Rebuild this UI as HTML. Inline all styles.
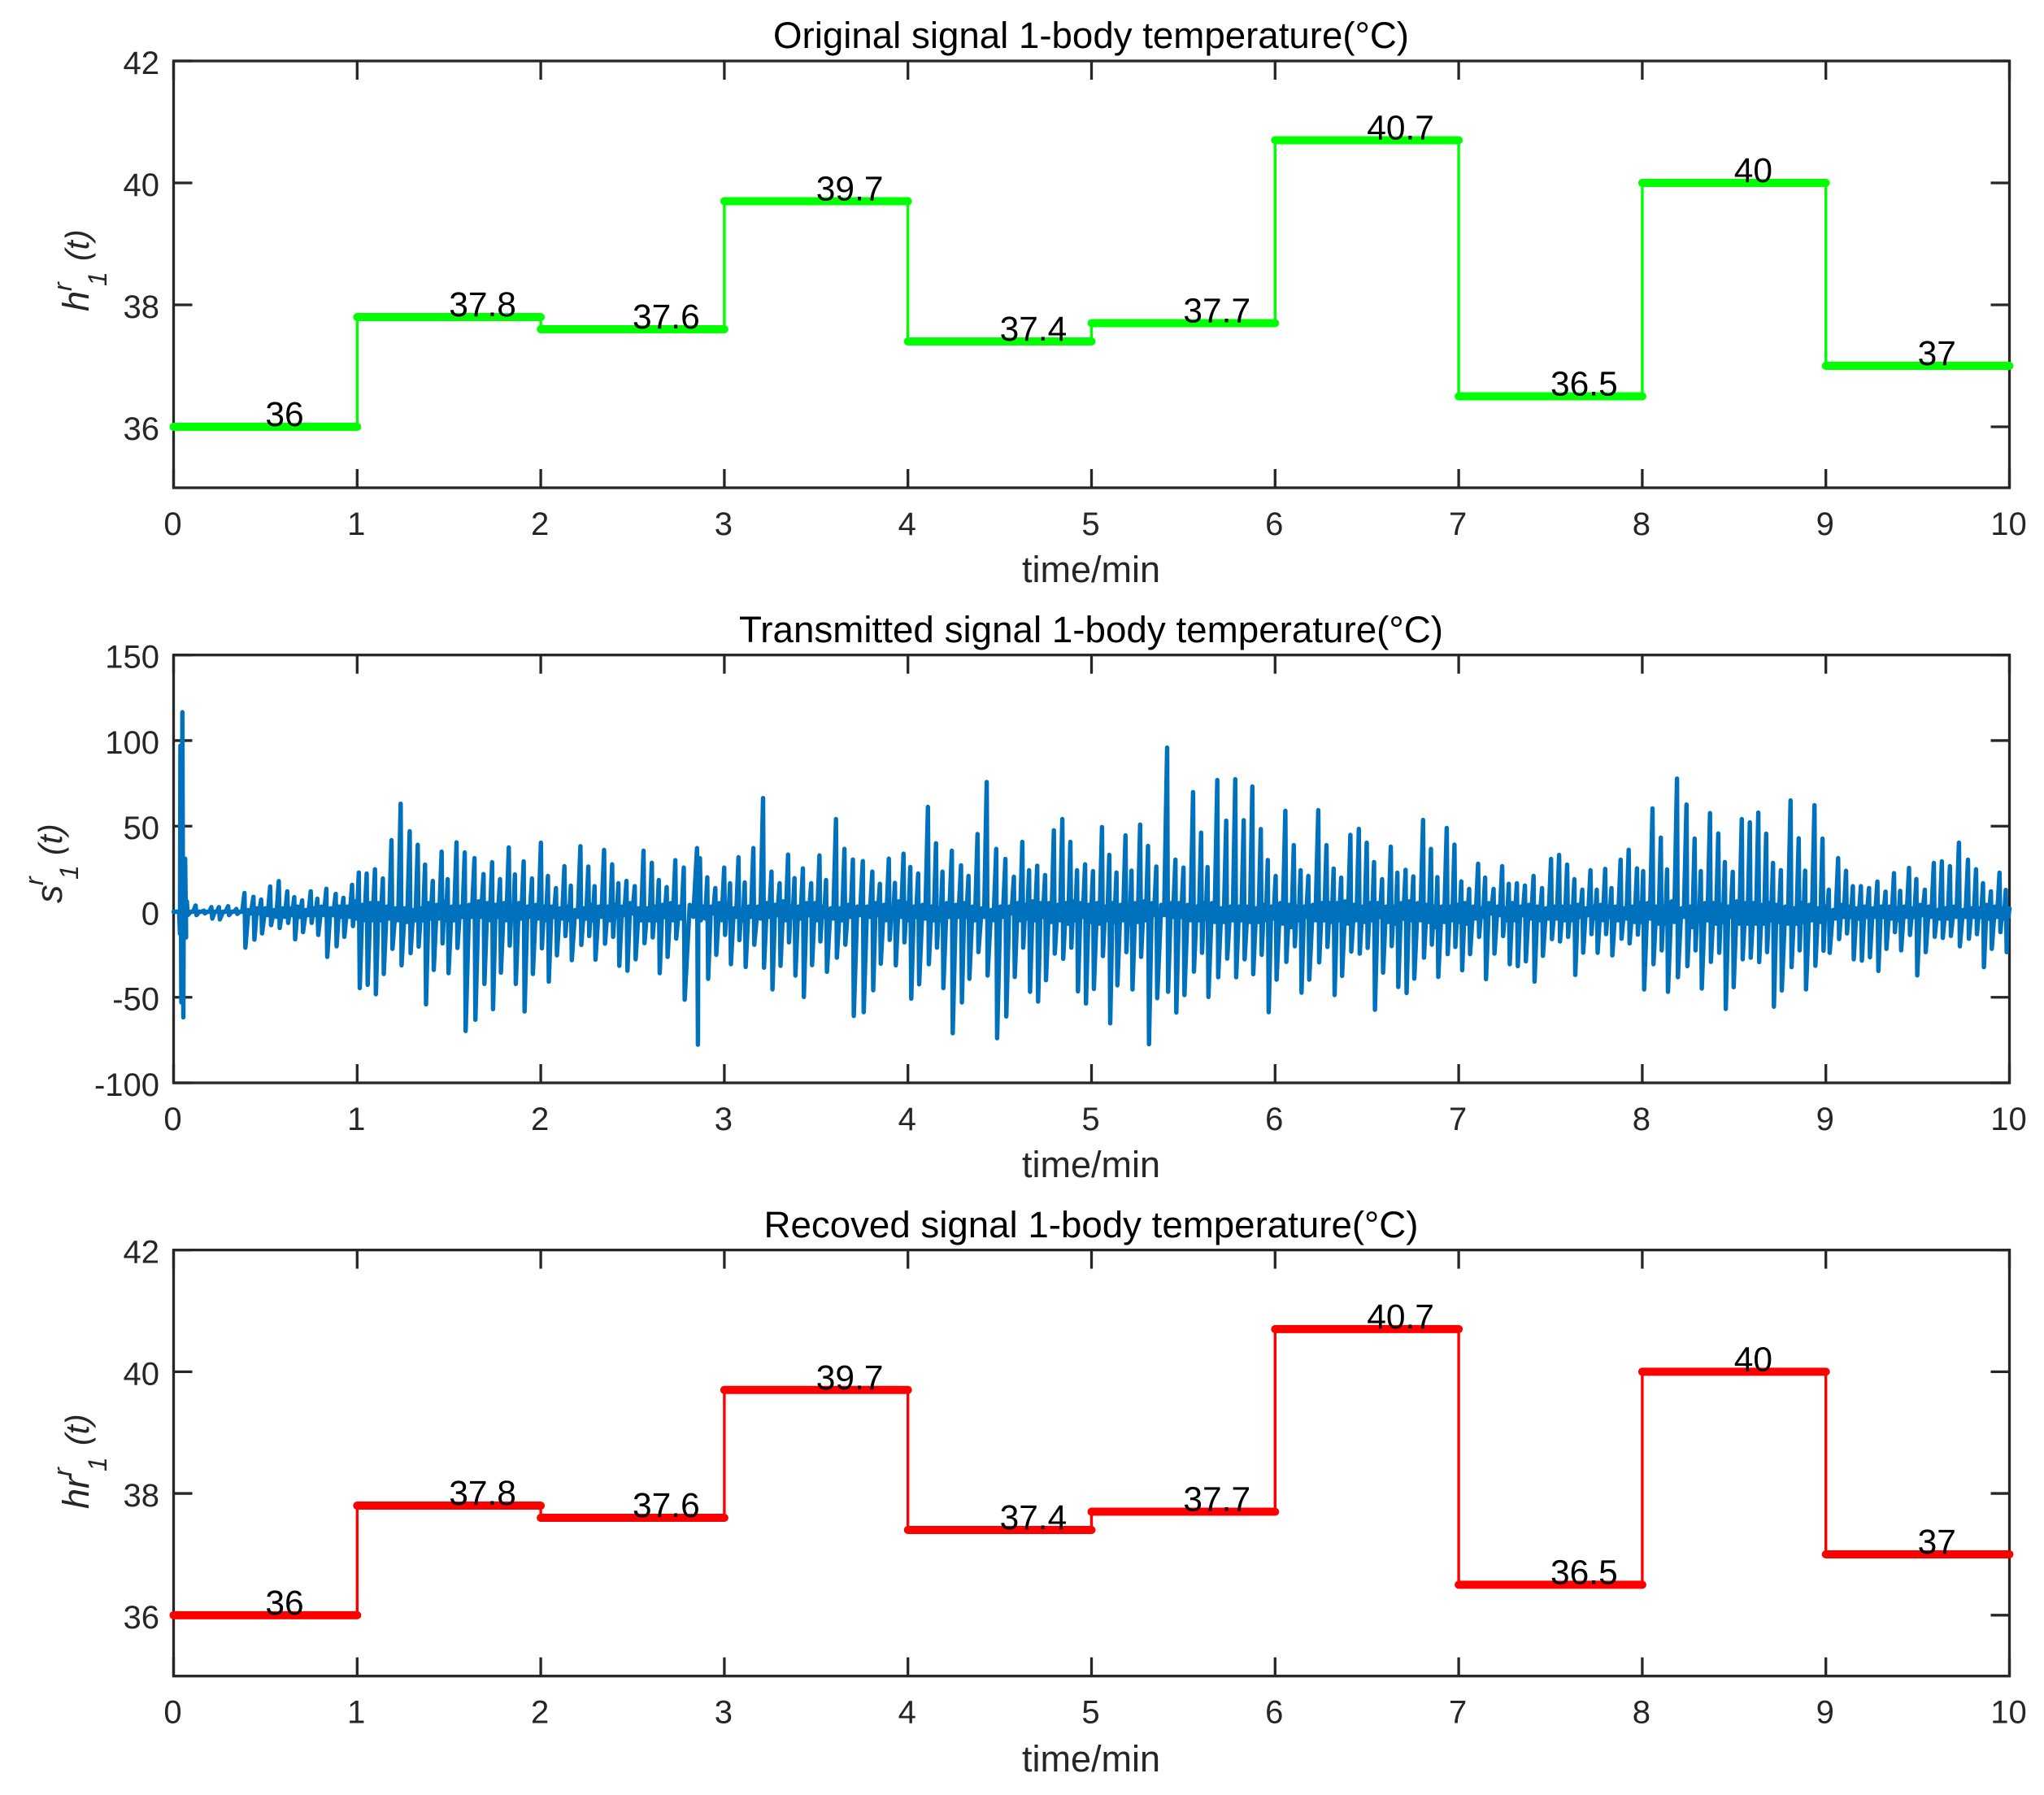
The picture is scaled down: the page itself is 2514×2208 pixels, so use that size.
<!DOCTYPE html>
<html>
<head>
<meta charset="utf-8">
<title>Body temperature signals</title>
<style>
html,body{margin:0;padding:0;background:#fff;}
svg{display:block;font-family:"Liberation Sans",Arial,sans-serif;}
.title{font-size:45.6px;fill:#000;text-anchor:middle;}
.xlabel{font-size:45px;fill:#262626;text-anchor:middle;}
.ylabel{font-size:45px;fill:#262626;font-style:italic;font-family:"Liberation Sans",Arial,sans-serif;}
.ylabel .sc{font-size:32px;}
.ylabel .arg{font-size:41px;}
.tick{font-size:40px;fill:#262626;}
.value{font-size:42.5px;fill:#000;}
</style>
</head>
<body>
<svg id="chart" xmlns="http://www.w3.org/2000/svg" width="2514" height="2208" viewBox="0 0 2514 2208">
  <rect x="0" y="0" width="2514" height="2208" fill="#fff"/>
  <g id="axes-original"></g>
  <g id="axes-transmitted"></g>
  <g id="axes-recovered"></g>

  <text class="title" x="1342" y="59" textLength="782" lengthAdjust="spacingAndGlyphs">Original signal 1-body temperature(°C)</text>
  <text class="title" x="1342" y="790" textLength="866" lengthAdjust="spacingAndGlyphs">Transmitted signal 1-body temperature(°C)</text>
  <text class="title" x="1342" y="1522" textLength="805" lengthAdjust="spacingAndGlyphs">Recoved signal 1-body temperature(°C)</text>

  <text class="xlabel" x="1342" y="716">time/min</text>
  <text class="xlabel" x="1342" y="1448">time/min</text>
  <text class="xlabel" x="1342" y="2179">time/min</text>

  <text class="ylabel" transform="translate(109 383) rotate(-90)"><tspan x="0" y="0">h</tspan><tspan class="sc" x="25" y="-21">r</tspan><tspan class="sc" x="31" y="22">1</tspan><tspan class="arg" x="62" y="0">(t)</tspan></text>
  <text class="ylabel" transform="translate(76 1111) rotate(-90)"><tspan x="0" y="0">s</tspan><tspan class="sc" x="22" y="-23">r</tspan><tspan class="sc" x="29" y="20">1</tspan><tspan class="arg" x="59" y="0">(t)</tspan></text>
  <text class="ylabel" transform="translate(109 1856) rotate(-90)"><tspan x="0" y="0">hr</tspan><tspan class="sc" x="40" y="-21">r</tspan><tspan class="sc" x="46" y="22">1</tspan><tspan class="arg" x="78" y="0">(t)</tspan></text>
</svg>

<script>
/* ---------- data ---------- */
const xTickLabels = [0,1,2,3,4,5,6,7,8,9,10];
const tempTickLabels = [36,38,40,42];
const signalTickLabels = [-100,-50,0,50,100,150];

const originalMinutes = [0,1,2,3,4,5,6,7,8,9];
const originalTemps = [36,37.8,37.6,39.7,37.4,37.7,40.7,36.5,40,37];
const recoveredTemps = [36,37.8,37.6,39.7,37.4,37.7,40.7,36.5,40,37];

/* transmitted signal: one entry per oscillation */
const signalTimes = [
0.000,0.030,0.037,0.048,0.063,0.072,0.120,0.165,0.206,0.247,0.297,0.342,
0.386,0.435,0.477,0.526,0.573,0.619,0.657,0.700,0.747,0.783,0.832,0.883,0.925,0.972,1.009,1.052,1.097,1.140,1.187,1.237,1.286,1.330,1.370,1.412,1.460,1.493,1.541,1.586,1.639,1.688,1.735,1.778,1.826,1.859,1.907,1.952,2.001,2.039,2.083,2.129,2.164,2.216,2.259,2.293,
2.345,2.389,2.423,2.467,2.512,2.560,2.605,2.643,2.686,2.733,2.779,2.851,2.867,2.907,2.951,2.999,3.031,3.077,3.111,3.158,3.211,3.257,3.301,3.347,3.382,3.428,3.473,3.518,3.554,3.608,3.654,3.700,3.754,3.806,3.847,3.896,3.929,3.976,4.013,4.056,4.109,4.153,4.188,4.239,4.289,4.330,4.379,4.429,4.481,4.531,4.577,
4.623,4.660,4.704,4.747,4.795,4.841,4.885,4.921,4.965,5.008,5.057,5.097,5.136,5.185,5.218,5.265,5.308,5.353,5.412,5.457,5.501,5.553,5.597,5.632,5.685,5.734,5.783,5.829,5.876,5.922,5.960,6.003,6.056,6.102,6.139,6.181,6.235,6.280,6.319,6.360,6.410,6.456,6.499,6.539,6.583,6.630,6.666,6.711,6.753,6.806,6.849,6.884,
6.935,6.977,7.014,7.057,7.106,7.144,7.190,7.237,7.273,7.317,7.361,7.408,7.454,7.503,7.547,7.591,7.630,7.673,7.718,7.752,7.798,7.832,7.882,7.926,7.971,8.005,8.056,8.101,8.135,8.189,8.241,8.285,8.319,8.369,8.414,8.450,8.493,8.542,8.586,8.632,8.675,8.712,8.755,8.808,8.852,8.887,8.938,8.982,9.016,9.067,9.110,9.147,9.191,
9.235,9.281,9.325,9.371,9.405,9.453,9.493,9.539,9.588,9.632,9.676,9.725,9.774,9.818,9.856,9.899,9.946,9.980];

const signalHigh = [
0,0,97,116.6,31,6,3.6,0.6,2.7,2.7,3.2,1.6,
10.9,8.7,7.1,14.7,17.9,11.9,8.5,6.6,11.9,7.6,13.4,10.4,8.1,15.7,22.9,22.3,24.8,19.4,41.8,63.1,47.0,39.1,27.5,18.0,35.1,19.0,40.5,34.6,31.3,22.0,28.9,19.0,37.5,21.8,29.4,19.4,40.3,20.9,13.8,26.6,15.2,38.3,26.4,14.9,
36.1,27.7,16.6,18.0,14.9,35.6,28.6,18.5,14.4,30.1,25.8,37.2,31.3,20.1,13.8,25.8,16.6,31.8,17.1,37.2,66.4,23.4,16.6,33.4,19.6,25.3,16.6,32.9,18.5,54.1,36.7,30.5,29.6,23.4,16.3,31.0,16.8,33.9,26.1,22.3,61.2,40.0,23.4,35.6,27.1,20.9,45.4,75.8,36.7,30.8,20.4,
40.8,24.2,26.9,21.4,47.6,54.1,40.8,24.2,27.7,23.7,49.5,33.2,22.9,44.6,24.0,50.9,38.4,26.4,95.9,30.4,25.8,69.9,46.2,26.1,77.0,53.2,77.4,53.5,73.2,48.3,30.2,20.9,59.0,38.9,24.2,20.9,59.3,38.9,25.2,19.9,44.9,48.4,40.3,29.0,19.0,38.0,22.8,24.5,20.6,53.6,36.7,20.2,
48.9,39.2,17.7,13.3,28.0,19.9,13.3,26.6,16.3,16.6,15.3,20.9,13.8,30.8,33.2,27.5,19.0,12.8,24.2,12.8,25.0,13.8,30.4,36.2,25.3,23.7,60.3,43.3,24.7,77.8,62.6,42.7,23.7,57.6,45.7,29.0,23.3,54.1,52.2,57.9,45.6,28.5,24.2,65.0,42.9,24.0,62.2,42.7,12.8,31.3,23.9,14.9,14.9,
13.8,17.6,11.7,22.5,12.2,25.6,19.1,12.8,28.5,29.4,26.6,40.3,30.4,24.8,16.6,11.9,22.8,12.7];

const signalLow = [
0,-13,-53,-61.7,-15,-2,-2,-1,-4,-4.5,-2,-1.3,
-21.0,-16.3,-12.7,-7.9,-9.5,-6.5,-16.1,-11.9,-6.5,-13.6,-26.4,-20.2,-14.7,-8.4,-44.6,-42.7,-48.2,-36.4,-21.7,-31.3,-24.2,-20.4,-54.1,-34.0,-18.5,-35.9,-21.2,-69.7,-63.1,-42.2,-56.9,-35.6,-19.8,-42.2,-58.3,-36.4,-21.4,-40.8,-25.5,-14.2,-28.3,-19.4,-14.2,-28.0,
-18.7,-14.7,-31.6,-34.5,-27.8,-18.4,-15.0,-35.9,-26.4,-15.7,-51.4,-77.7,-5,-39.2,-25.2,-13.6,-30.7,-16.6,-32.3,-19.3,-32.7,-45.4,-31.6,-17.9,-37.3,-49.8,-31.2,-17.4,-35.1,-26.9,-19.3,-60.9,-58.7,-45.9,-30.4,-16.5,-31.3,-17.9,-50.8,-42.4,-30.7,-21.0,-44.6,-71.0,-53.0,-39.2,-23.6,-37.3,-73.9,-61.2,-38.1,
-21.0,-46.8,-52.5,-40.0,-24.5,-27.5,-21.0,-46.5,-53.6,-45.1,-25.9,-65.2,-43.0,-23.6,-45.4,-26.4,-77.4,-50.5,-46.8,-58.9,-48.7,-35.0,-24.0,-49.8,-38.3,-27.4,-38.3,-27.8,-36.5,-25.2,-58.7,-39.7,-29.3,-20.2,-47.3,-39.7,-29.6,-20.6,-48.7,-37.5,-23.3,-24.5,-21.2,-57.3,-35.6,-20.1,-44.0,-47.5,-39.1,-26.9,-19.3,-38.1,
-24.8,-20.6,-34.2,-24.8,-14.7,-39.4,-24.5,-14.2,-30.7,-31.8,-29.0,-40.8,-25.8,-16.0,-17.4,-14.7,-36.9,-23.9,-13.1,-24.0,-13.1,-25.5,-15.8,-18.5,-13.4,-45.4,-30.7,-22.6,-46.8,-38.3,-31.8,-22.6,-44.9,-29.3,-24.0,-56.8,-44.1,-27.8,-26.9,-29.4,-23.6,-55.5,-46.0,-32.4,-22.6,-45.4,-31.6,-22.8,-24.0,-16.0,-12.7,-27.8,-28.6,
-26.6,-34.6,-21.7,-11.9,-22.6,-13.6,-37.2,-23.6,-14.6,-15.3,-14.1,-20.2,-15.8,-13.1,-32.4,-21.7,-11.9,-23.6];

/* small oscillation between the large spikes (estimated) */
const shoulderHigh = [
0,0,0,1,1,0,0,0,0,0,0,0,
1,2,2,1,2,2,3,1,2,3,2,3,3,6,4,5,5,3,2,2,1,2,5,4,6,3,3,4,6,5,4,5,3,5,3,4,3,3,2,3,1,2,4,3,
3,4,3,5,2,2,3,4,5,3,4,2,3,3,5,4,2,1,3,3,5,4,6,3,3,5,5,3,2,2,4,3,3,5,4,2,6,5,3,4,3,2,5,4,5,3,2,1,3,3,5,
4,6,5,5,4,5,6,5,4,5,3,5,4,3,5,6,5,4,5,5,4,3,5,5,2,3,3,3,2,4,3,5,4,3,3,4,5,5,5,6,4,3,5,5,3,3,5,6,5,4,3,3,
3,4,5,3,2,5,3,2,5,3,4,3,2,3,3,3,4,2,3,4,3,3,2,3,5,5,3,3,6,2,3,2,5,5,4,3,6,5,5,4,5,4,3,2,5,4,2,3,1,4,3,2,3,
2,3,3,2,3,2,4,3,1,2,3,1,2,2,4,3,2,1];

const shoulderLow = [
0,0,-1,-2,-1,0,0,0,0,0,0,0,
-1,-1,-2,-3,-3,-2,-3,-2,-2,-2,-2,-3,-3,-4,-5,-5,-5,-4,-5,-6,-5,-5,-4,-4,-5,-5,-3,-3,-3,-5,-3,-5,-4,-4,-3,-4,-5,-3,-4,-5,-3,-4,-5,-3,
-5,-3,-2,-1,-5,-5,-5,-3,-5,-4,-3,-2,-4,-1,-5,-3,-3,-5,-3,-4,-3,-2,-5,-3,-4,-2,-5,-3,-4,-5,-3,-2,-3,-2,-5,-3,-3,-5,-3,-4,-5,-5,-3,-3,-3,-5,-3,-5,-3,-1,-5,
-4,-5,-3,-6,-5,-7,-5,-3,-6,-7,-5,-6,-5,-7,-6,-5,-2,-2,-3,-3,-5,-5,-4,-6,-6,-5,-5,-6,-6,-5,-4,-7,-9,-5,-3,-5,-5,-6,-5,-7,-5,-6,-5,-3,-6,-7,-4,-5,-5,-6,-9,-6,
-5,-6,-7,-4,-3,-1,-2,-5,-5,-2,-4,-5,-4,-4,-5,-5,-3,-2,-4,-5,-3,-5,-4,-6,-6,-4,-7,-7,-6,-3,-9,-5,-5,-7,-6,-3,-7,-7,-7,-7,-5,-6,-7,-7,-6,-5,-6,-3,-4,-3,-3,-4,-3,
-3,-3,-4,-5,-3,-3,-2,-3,-4,-4,-3,-3,-3,-3,-4,-3,-4,-3];

/* ---------- axes geometry ---------- */
const LEFT = 213.5, RIGHT = 2471.5;
const originalAxes = {top:75, bottom:600, yMin:35, yMax:42};
const transmittedAxes = {top:805.7, bottom:1332, yMin:-100, yMax:150};
const recoveredAxes = {top:1537.6, bottom:2061.7, yMin:35, yMax:42};
const NS = 'http://www.w3.org/2000/svg';

function xPos(t){ return LEFT + (t - 0) / 10 * (RIGHT - LEFT); }
function yPos(ax, v){ return ax.bottom - (v - ax.yMin) / (ax.yMax - ax.yMin) * (ax.bottom - ax.top); }

function addLine(parent, x1, y1, x2, y2, color, width, cap, name){
  const el = document.createElementNS(NS, 'line');
  el.setAttribute('x1', x1);
  el.setAttribute('y1', y1);
  el.setAttribute('x2', x2);
  el.setAttribute('y2', y2);
  el.setAttribute('stroke', color);
  el.setAttribute('stroke-width', width);
  el.setAttribute('stroke-linecap', cap);
  
  
  parent.appendChild(el);
  return el;
}
function addText(parent, str, x, y, anchor, cls, name){
  const el = document.createElementNS(NS, 'text');
  el.setAttribute('x', x);
  el.setAttribute('y', y);
  el.setAttribute('text-anchor', anchor);
  el.setAttribute('class', cls);
  
  
  el.textContent = str;
  parent.appendChild(el);
  return el;
}

function drawFrame(group, ax, yTicks){
  const box = document.createElementNS(NS, 'rect');
  box.setAttribute('x', LEFT);
  box.setAttribute('y', ax.top);
  box.setAttribute('width', RIGHT - LEFT);
  box.setAttribute('height', ax.bottom - ax.top);
  box.setAttribute('fill', 'none');
  box.setAttribute('stroke', '#262626');
  box.setAttribute('stroke-width', 3.3);
  
  
  group.appendChild(box);
  const len = 23;
  xTickLabels.forEach(function(t){
    const x = xPos(t);
    addLine(group, x, ax.bottom, x, ax.bottom - len, '#262626', 3.3, 'butt', 'x-tick');
    addLine(group, x, ax.top, x, ax.top + len, '#262626', 3.3, 'butt', 'x-tick-top');
    addText(group, String(t), x - 1, ax.bottom + 58, 'middle', 'tick', 'x-tick-label');
  });
  yTicks.forEach(function(v){
    const y = yPos(ax, v);
    addLine(group, LEFT, y, LEFT + len, y, '#262626', 3.3, 'butt', 'y-tick');
    addLine(group, RIGHT, y, RIGHT - len, y, '#262626', 3.3, 'butt', 'y-tick-right');
    addText(group, String(v), 196, y + 16, 'end', 'tick', 'y-tick-label');
  });
}

function drawSteps(group, ax, minutes, temps, color, seriesName){
  for (let i = 0; i + 1 < temps.length; i++) {
    const x = xPos(minutes[i + 1]);
    addLine(group, x, yPos(ax, temps[i]), x, yPos(ax, temps[i + 1]), color, 3.4, 'butt', seriesName + '-riser');
  }
  temps.forEach(function(v, i){
    const start = minutes[i];
    const end = start + 1;
    const y = yPos(ax, v);
    addLine(group, xPos(start), y, xPos(end), y, color, 10, 'round', seriesName + '-level');
  });
  temps.forEach(function(v, i){
    addText(group, String(v), xPos(minutes[i] + 0.5), yPos(ax, v) - 1, 'start', 'value', 'value-label');
  });
}

function drawSignal(group, ax){
  const pts = [];
  const n = signalTimes.length;
  for (let i = 0; i < n; i++) {
    const t = signalTimes[i];
    const next = i + 1 < n ? signalTimes[i + 1] : 10;
    const gap = next - t;
    pts.push([t, signalHigh[i]]);
    pts.push([t + 0.005, signalLow[i]]);
    const sh = shoulderHigh[i] === undefined ? 3 : shoulderHigh[i];
    const sl = shoulderLow[i] === undefined ? -3 : shoulderLow[i];
    pts.push([t + gap * 0.45, sh]);
    pts.push([t + gap * 0.72, sl]);
  }
  pts.push([10, 2]);
  const d = pts.map(function(p, i){
    return (i ? 'L' : 'M') + xPos(p[0]).toFixed(1) + ' ' + yPos(ax, p[1]).toFixed(1);
  }).join('');
  const path = document.createElementNS(NS, 'path');
  path.setAttribute('d', d);
  path.setAttribute('fill', 'none');
  path.setAttribute('stroke', '#0072BD');
  path.setAttribute('stroke-width', 5.4);
  path.setAttribute('stroke-linejoin', 'round');
  path.setAttribute('stroke-linecap', 'round');
  
  
  group.appendChild(path);
}

const gOriginal = document.getElementById('axes-original');
const gTransmitted = document.getElementById('axes-transmitted');
const gRecovered = document.getElementById('axes-recovered');

drawFrame(gOriginal, originalAxes, tempTickLabels);
drawSteps(gOriginal, originalAxes, originalMinutes, originalTemps, '#00FF00', 'original-signal');

drawFrame(gTransmitted, transmittedAxes, signalTickLabels);
drawSignal(gTransmitted, transmittedAxes);

drawFrame(gRecovered, recoveredAxes, tempTickLabels);
drawSteps(gRecovered, recoveredAxes, originalMinutes, recoveredTemps, '#FF0000', 'recovered-signal');
</script>
</body>
</html>
